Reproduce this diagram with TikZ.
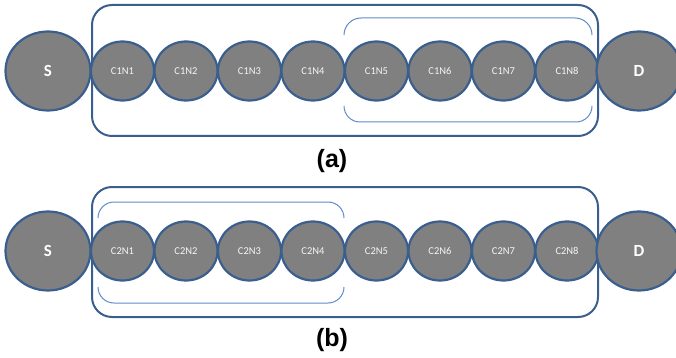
\documentclass[tikz,border=0pt]{standalone}
\usepackage{fontspec}
\setmainfont{Carlito}
\newfontfamily\labfont{Liberation Sans}
\usetikzlibrary{shapes.geometric}
\definecolor{edgeblue}{HTML}{3A5F8F}
\definecolor{lightblue}{HTML}{5E8ACB}
\definecolor{nodegray}{HTML}{808080}
\tikzset{
  big/.style={ellipse, draw=edgeblue, line width=2.2pt, fill=nodegray, minimum width=85pt, minimum height=79pt, inner sep=0pt, text=white, font=\fontsize{17}{17}\selectfont\bfseries},
  small/.style={ellipse, draw=edgeblue, line width=2.2pt, fill=nodegray, minimum width=63pt, minimum height=59pt, inner sep=0pt, text=white!92!gray, font=\fontsize{10.5}{10.5}\selectfont},
  outerbox/.style={draw=edgeblue, line width=2pt, rounded corners=20pt},
  bracket/.style={draw=lightblue, line width=1pt},
  caption/.style={font=\labfont\fontsize{25}{25}\selectfont\bfseries, text=black}
}
\begin{document}
\begin{tikzpicture}[x=1pt,y=-1pt]
\useasboundingbox (0,0) rectangle (676,358);
% ---------- (a) ----------
\draw[outerbox] (92,5) rectangle (598,136);
\draw[bracket, rounded corners=17pt] (344,35) -- (344,18) -- (592,18) -- (592,35);
\draw[bracket, rounded corners=16pt] (344,106) -- (344,122) -- (592,122) -- (592,106);
\node[big] (Sa) at (48,71) {S};
\foreach \i/\x in {1/122.5,2/186,3/249.5,4/313,5/376.5,6/440,7/503.5,8/567}{
  \node[small] (a\i) at (\x,71) {C1N\i};
}
\node[big] (Da) at (639,71) {D};
\node[caption] (capa) at (332,161) {(a)};
% ---------- (b) ----------
\draw[outerbox] (92,187) rectangle (598,317);
\draw[bracket, rounded corners=16pt] (98,218) -- (98,202) -- (344,202) -- (344,218);
\draw[bracket, rounded corners=16pt] (98,287) -- (98,303) -- (344,303) -- (344,287);
\node[big] (Sb) at (48,251) {S};
\foreach \i/\x in {1/122.5,2/186,3/249.5,4/313,5/376.5,6/440,7/503.5,8/567}{
  \node[small] (b\i) at (\x,251) {C2N\i};
}
\node[big] (Db) at (639,251) {D};
\node[caption] (capb) at (332,340) {(b)};
\end{tikzpicture}
\end{document}
